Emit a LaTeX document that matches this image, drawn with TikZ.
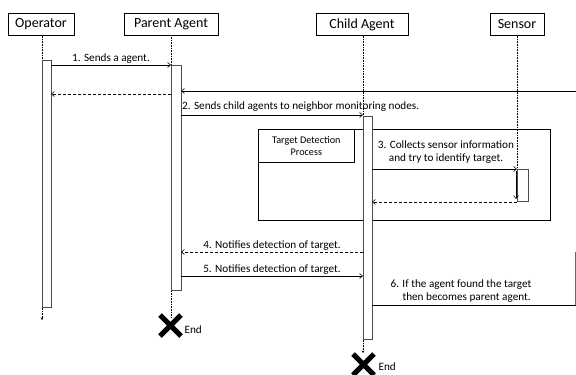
\documentclass[tikz,border=0pt]{standalone}
\usepackage{fontspec}
\setmainfont{Carlito}
\usepackage{tikz}
\usetikzlibrary{arrows.meta,positioning}

\begin{document}
\begin{tikzpicture}[x=1pt, y=-1pt,
    actor/.style={draw, minimum height=22pt, inner sep=2pt, font=\fontsize{14}{16}\selectfont},
    lifeline/.style={densely dotted, line width=0.6pt},
    actbar/.style={draw=black!70, fill=white, line width=0.6pt},
    msg/.style={-{Straight Barb[length=3pt,width=5pt]}, line width=0.6pt},
    reply/.style={msg, densely dashed},
    lbl/.style={font=\fontsize{11.2}{13}\selectfont},
    cross/.style={line width=5pt}]

% Canvas
\useasboundingbox (0,0) rectangle (576,375);

% Actors
\node[actor, minimum width=66pt] (op) at (41,24.5) {Operator};
\node[actor, minimum width=94pt] (pa) at (171,24) {Parent Agent};
\node[actor, minimum width=92pt] (ca) at (362,24.5) {Child Agent};
\node[actor, minimum width=54pt] (se) at (517,24.5) {Sensor};

% Lifelines
\coordinate (opEnd) at (42,320);
\coordinate (paEnd) at (171,318);
\coordinate (caEnd) at (363,353);
\coordinate (seEnd) at (517,169);
\draw[lifeline, -{Stealth[length=2.5pt,width=2.5pt]}] (op.south -| opEnd) -- (opEnd);
\draw[lifeline] (pa.south -| paEnd) -- (paEnd);
\draw[lifeline, -{Stealth[length=2.5pt,width=2.5pt]}] (ca.south -| caEnd) -- (caEnd);
\draw[lifeline] (se.south -| seEnd) -- (seEnd);

% Target detection frame
\draw[line width=0.9pt] (258,129) rectangle (550,220);
\node[draw, line width=0.6pt, minimum width=96pt, minimum height=33pt, inner sep=1pt,
      align=center, font=\fontsize{10.2}{12}\selectfont, anchor=north west]
      (tdp) at (258,129) {Target Detection\\Process};

% Activation bars
\draw[actbar] (42,60) rectangle (51,307);
\draw[actbar] (171,65) rectangle (181,290);
\draw[actbar] (363,116) rectangle (372,339);
\draw[actbar] (517,169) rectangle (528,201);

% Message points
\coordinate (m1a) at (51,65);   \coordinate (m1b) at (171,65);
\coordinate (r1a) at (171,94);  \coordinate (r1b) at (51,94);
\coordinate (lpA) at (576,91);  \coordinate (lpB) at (181,91);
\coordinate (m2a) at (181,115); \coordinate (m2b) at (363,115);
\coordinate (m3a) at (372,169); \coordinate (m3b) at (517,169);
\coordinate (s3a) at (516,171); \coordinate (s3b) at (516,199);
\coordinate (r3a) at (517,202); \coordinate (r3b) at (372,202);
\coordinate (m4a) at (363,252); \coordinate (m4b) at (181,252);
\coordinate (m5a) at (181,276); \coordinate (m5b) at (363,276);
\coordinate (m6a) at (372,305); \coordinate (m6b) at (575.5,305);
\coordinate (m6c) at (575.5,252);

% Messages
\draw[msg] (m1a) -- node[lbl, above=-2pt] {1. Sends a agent.} (m1b);
\draw[reply] (r1a) -- (r1b);
\draw[msg] (lpA) -- (lpB);
\draw[msg] (m2a) -- (m2b);
\node[lbl, anchor=south west, inner sep=1pt] (l2) at (181,113) {2. Sends child agents to neighbor monitoring nodes.};
\draw[msg] (m3a) -- (m3b);
\node[lbl, align=center] (l3) at (446,152) {3. Collects sensor information\\and try to identify target.};
\draw[msg] (s3a) -- (s3b);
\draw[reply] (r3a) -- (r3b);
\draw[reply] (m4a) -- node[lbl, above=-2pt] {4. Notifies detection of target.} (m4b);
\draw[msg] (m5a) -- node[lbl, above=-2pt] {5. Notifies detection of target.} (m5b);
\draw[line width=0.6pt] (m6a) -- (m6b);
\draw[line width=0.6pt, black!60] (m6b) -- (m6c);
\node[lbl, align=center] (l6) at (461,291) {6. If the agent found the target\\ \quad then becomes parent agent.};

% End marks
\draw[cross] (160,315) -- (181,336) (160,336) -- (181,315);
\node[lbl, anchor=west] (pend) at (181,330) {End};
\draw[cross] (353,354) -- (374,375) (353,375) -- (374,354);
\node[lbl, anchor=west] (cend) at (375,367) {End};

\end{tikzpicture}
\end{document}
